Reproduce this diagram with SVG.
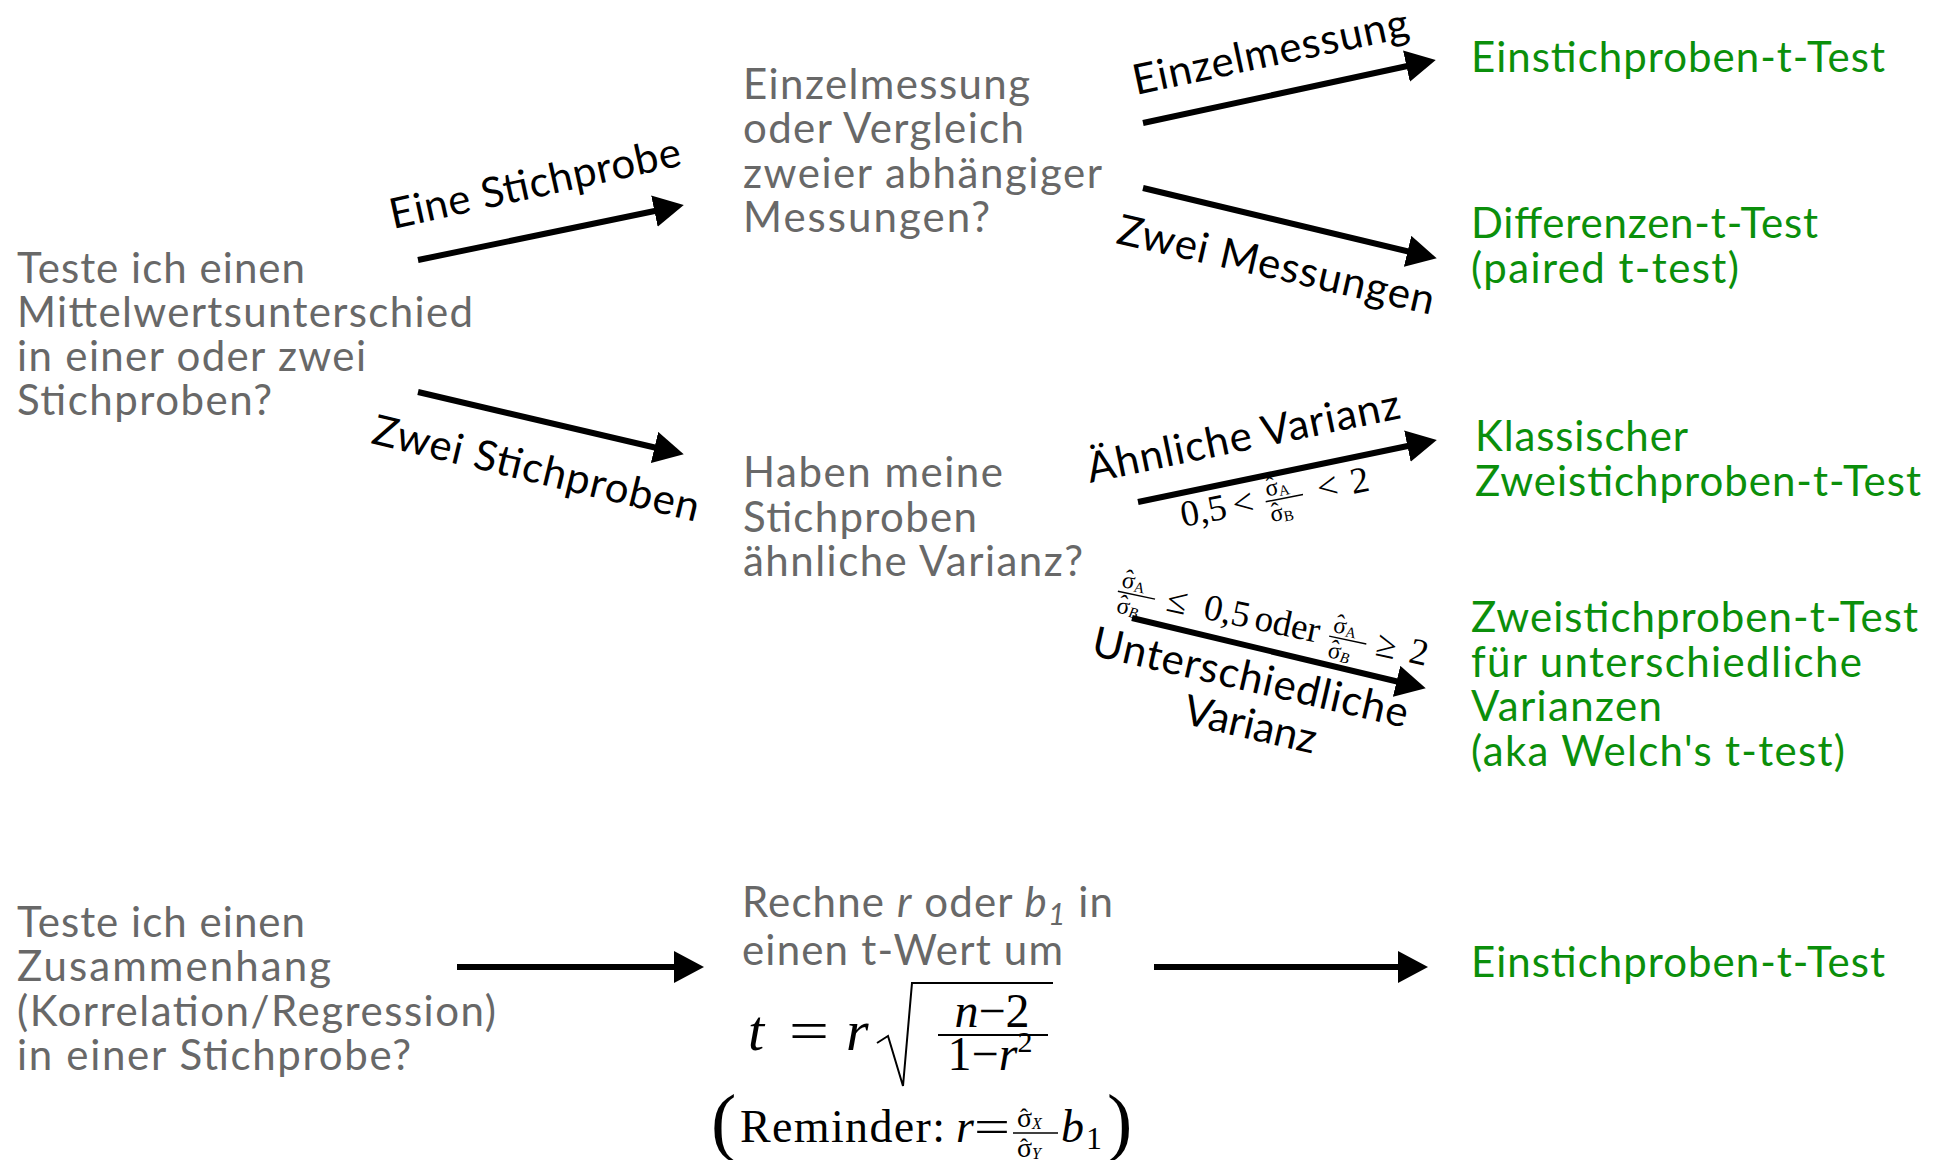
<svg xmlns="http://www.w3.org/2000/svg" width="1935" height="1160" viewBox="0 0 1935 1160">
<style>
.q{font-family:Lato,"Liberation Sans",sans-serif;font-size:42px;fill:#686868}
.g{font-family:Lato,"Liberation Sans",sans-serif;font-size:42px;fill:#0b8f0b}
.lb{font-family:Lato,"Liberation Sans",sans-serif;font-size:42px;fill:#000}
.m{font-family:"Liberation Serif","DejaVu Serif",serif;fill:#000}
.mi{font-style:italic}
.fs{font-size:24px}
.sub{font-size:15px}
.hat{font-size:24px;text-anchor:middle}
.arr{stroke:#000;stroke-width:6;fill:none;marker-end:url(#ah)}
.thin{stroke:#000;stroke-width:2;fill:none}
.bar{stroke:#000;stroke-width:1.4}
</style>
<defs>
<marker id="ah" markerUnits="userSpaceOnUse" viewBox="0 0 30 32" refX="20" refY="16" markerWidth="30" markerHeight="32" orient="auto">
<path d="M0,0 L30,16 L0,32 z" fill="#000"/>
</marker>
</defs>
<rect width="1935" height="1160" fill="#fff"/>

<g id="q-mittelwert">
<text class="q" x="17" y="283" textLength="288" lengthAdjust="spacing">Teste ich einen</text>
<text class="q" x="17" y="327" textLength="456" lengthAdjust="spacing">Mittelwertsunterschied</text>
<text class="q" x="17" y="371" textLength="349" lengthAdjust="spacing">in einer oder zwei</text>
<text class="q" x="17" y="415" textLength="255" lengthAdjust="spacing">Stichproben?</text>
</g>

<g id="q-einzelmessung">
<text class="q" x="743" y="99" textLength="287" lengthAdjust="spacing">Einzelmessung</text>
<text class="q" x="743" y="143" textLength="281" lengthAdjust="spacing">oder Vergleich</text>
<text class="q" x="743" y="188" textLength="359" lengthAdjust="spacing">zweier abhängiger</text>
<text class="q" x="743" y="232" textLength="247" lengthAdjust="spacing">Messungen?</text>
</g>

<g id="q-varianz">
<text class="q" x="743" y="487" textLength="260" lengthAdjust="spacing">Haben meine</text>
<text class="q" x="743" y="532" textLength="234" lengthAdjust="spacing">Stichproben</text>
<text class="q" x="743" y="576" textLength="340" lengthAdjust="spacing">ähnliche Varianz?</text>
</g>

<g id="r-einstich-1">
<text class="g" x="1471" y="72" textLength="414" lengthAdjust="spacing">Einstichproben-t-Test</text>
</g>
<g id="r-differenzen">
<text class="g" x="1471" y="238" textLength="347" lengthAdjust="spacing">Differenzen-t-Test</text>
<text class="g" x="1471" y="283" textLength="268" lengthAdjust="spacing">(paired t-test)</text>
</g>
<g id="r-klassisch">
<text class="g" x="1475" y="451" textLength="213" lengthAdjust="spacing">Klassischer</text>
<text class="g" x="1475" y="496" textLength="446" lengthAdjust="spacing">Zweistichproben-t-Test</text>
</g>
<g id="r-welch">
<text class="g" x="1471" y="632" textLength="447" lengthAdjust="spacing">Zweistichproben-t-Test</text>
<text class="g" x="1471" y="677" textLength="391" lengthAdjust="spacing">für unterschiedliche</text>
<text class="g" x="1471" y="721" textLength="191" lengthAdjust="spacing">Varianzen</text>
<text class="g" x="1471" y="766" textLength="374" lengthAdjust="spacing">(aka Welch's t-test)</text>
</g>

<g id="q-zusammenhang">
<text class="q" x="17" y="937" textLength="288" lengthAdjust="spacing">Teste ich einen</text>
<text class="q" x="17" y="981" textLength="314" lengthAdjust="spacing">Zusammenhang</text>
<text class="q" x="17" y="1026" textLength="479" lengthAdjust="spacing">(Korrelation/Regression)</text>
<text class="q" x="17" y="1070" textLength="394" lengthAdjust="spacing">in einer Stichprobe?</text>
</g>

<g id="calc-t">
<text class="q" x="742" y="917" textLength="371" lengthAdjust="spacing">Rechne <tspan font-style="italic">r</tspan> oder <tspan font-style="italic">b</tspan><tspan font-style="italic" font-size="30" dy="8">1</tspan><tspan dy="-8"> in</tspan></text>
<text class="q" x="742" y="965" textLength="321" lengthAdjust="spacing">einen t-Wert um</text>
<text class="m mi" x="748" y="1050" font-size="58">t</text>
<text class="m" x="789" y="1050" font-size="58" textLength="40" lengthAdjust="spacingAndGlyphs">=</text>
<text class="m mi" x="846" y="1050" font-size="58">r</text>
<path d="M877,1043 L888,1036 L903,1086 L912,983 L1053,983" class="thin" stroke-width="2.5"/>
<text class="m" x="992" y="1027" font-size="48" text-anchor="middle"><tspan font-style="italic">n</tspan>−2</text>
<line class="thin" x1="938" y1="1035" x2="1048" y2="1035"/>
<text class="m" x="990" y="1070" font-size="48" text-anchor="middle">1−<tspan font-style="italic">r</tspan><tspan font-size="30" dy="-18">2</tspan></text>
<text class="m" x="711" y="1147" font-size="76">(</text>
<text class="m" x="740" y="1142" font-size="46" textLength="205" lengthAdjust="spacing">Reminder:</text>
<text class="m mi" x="956" y="1142" font-size="46">r</text>
<text class="m" x="974" y="1142" font-size="46" textLength="36" lengthAdjust="spacingAndGlyphs">=</text>
<text class="m" x="1017" y="1127" font-size="28">σ<tspan font-style="italic" font-size="16" dy="2">X</tspan></text>
<text class="m hat" x="1024" y="1125">ˆ</text>
<line class="bar" x1="1013" y1="1133" x2="1058" y2="1133"/>
<text class="m" x="1017" y="1157" font-size="28">σ<tspan font-style="italic" font-size="16" dy="2">Y</tspan></text>
<text class="m hat" x="1024" y="1155">ˆ</text>
<text class="m mi" x="1061" y="1142" font-size="46">b</text>
<text class="m" x="1086" y="1149" font-size="32">1</text>
<text class="m" x="1107" y="1147" font-size="76">)</text>
</g>

<g id="r-einstich-2">
<text class="g" x="1471" y="977" textLength="414" lengthAdjust="spacing">Einstichproben-t-Test</text>
</g>

<g id="connectors">
<line class="arr" x1="418" y1="260" x2="674" y2="207"/>
<line class="arr" x1="418" y1="392" x2="674" y2="452"/>
<line class="arr" x1="1143" y1="123" x2="1426" y2="62"/>
<line class="arr" x1="1143" y1="188" x2="1427" y2="256"/>
<line class="arr" x1="1138" y1="502" x2="1427" y2="442"/>
<line class="arr" x1="1132" y1="618" x2="1416" y2="686"/>
<line class="arr" x1="457" y1="967" x2="694" y2="967"/>
<line class="arr" x1="1154" y1="967" x2="1418" y2="967"/>

<text class="lb" transform="translate(393,229) rotate(-12.4)" textLength="297" lengthAdjust="spacing">Eine Stichprobe</text>
<text class="lb" transform="translate(370,443) rotate(13.6)" textLength="335" lengthAdjust="spacing">Zwei Stichproben</text>
<text class="lb" transform="translate(1136,95) rotate(-12)" textLength="281" lengthAdjust="spacing">Einzelmessung</text>
<text class="lb" transform="translate(1115,243) rotate(12.8)" textLength="324" lengthAdjust="spacing">Zwei Messungen</text>
<text class="lb" transform="translate(1090,483) rotate(-11.8)" textLength="319" lengthAdjust="spacing">Ähnliche Varianz</text>
<g transform="translate(1090,655) rotate(13)">
<text class="lb" x="0" y="0" textLength="323" lengthAdjust="spacing">Unterschiedliche</text>
<text class="lb" x="172" y="46" text-anchor="middle">Varianz</text>
</g>

<g transform="translate(1183,527) rotate(-11)">
<text class="m" x="0" y="0" font-size="37">0,5</text>
<text class="m" x="53" y="0" font-size="37">&lt;</text>
<text class="m fs" x="88" y="-14">σ<tspan class="sub" dy="2">A</tspan></text>
<text class="m hat" x="94" y="-16">ˆ</text>
<line class="bar" x1="86" y1="-9" x2="124" y2="-9"/>
<text class="m fs" x="88" y="12">σ<tspan class="sub" dy="2">B</tspan></text>
<text class="m hat" x="94" y="10">ˆ</text>
<text class="m" x="139" y="0" font-size="37">&lt;</text>
<text class="m" x="173" y="0" font-size="37">2</text>
</g>

<g transform="translate(1116,600) rotate(12)">
<text class="m fs" x="2" y="-14">σ<tspan class="sub" dy="2">A</tspan></text>
<text class="m hat" x="8" y="-16">ˆ</text>
<line class="bar" x1="0" y1="-9" x2="38" y2="-9"/>
<text class="m fs" x="2" y="12">σ<tspan class="sub mi" dy="2">B</tspan></text>
<text class="m hat" x="8" y="10">ˆ</text>
<text class="m" x="50" y="0" font-size="37">≤</text>
<text class="m" x="88" y="0" font-size="37">0,5</text>
<text class="m" x="140" y="0" font-size="37">oder</text>
<text class="m fs" x="218" y="-14">σ<tspan class="sub" dy="2">A</tspan></text>
<text class="m hat" x="224" y="-16">ˆ</text>
<line class="bar" x1="216" y1="-9" x2="254" y2="-9"/>
<text class="m fs" x="218" y="12">σ<tspan class="sub mi" dy="2">B</tspan></text>
<text class="m hat" x="224" y="10">ˆ</text>
<text class="m" x="264" y="0" font-size="37">≥</text>
<text class="m" x="298" y="0" font-size="37">2</text>
</g>
</g>
</svg>
